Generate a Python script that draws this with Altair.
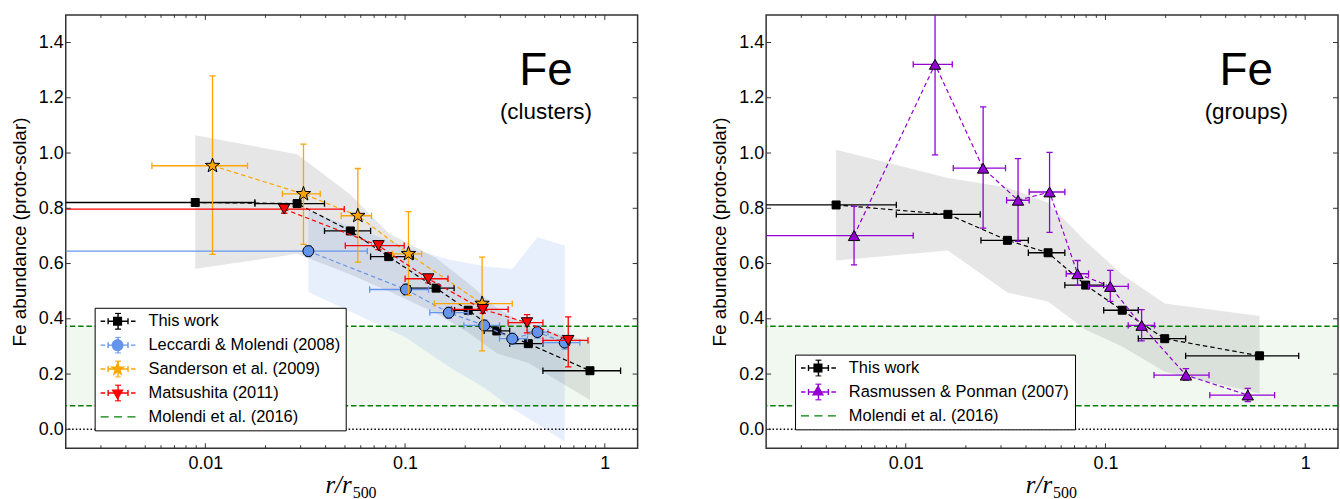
import math
import altair as alt
import pandas as pd

# ---------------------------------------------------------------- clusters
tw_c_x   = [0.0089, 0.0288, 0.0532, 0.0828, 0.143, 0.207, 0.288, 0.414, 0.843]
tw_c_y   = [0.821, 0.817, 0.718, 0.625, 0.511, 0.431, 0.356, 0.310, 0.212]
tw_c_ylo = [0.812, 0.808, 0.708, 0.615, 0.501, 0.421, 0.346, 0.300, 0.202]
tw_c_yhi = [0.830, 0.826, 0.728, 0.635, 0.521, 0.441, 0.366, 0.320, 0.222]
tw_c_xlo = [0.0001, 0.0177, 0.0395, 0.0672, 0.106, 0.177, 0.249, 0.334, 0.49]
tw_c_xhi = [0.0177, 0.0395, 0.0672, 0.110, 0.176, 0.249, 0.334, 0.49, 1.2]
tw_c_band_lo = [0.581, 0.635, 0.56, 0.50, 0.42, 0.35, 0.275, 0.24, 0.106]
tw_c_band_hi = [1.064, 0.996, 0.85, 0.71, 0.62, 0.53, 0.44, 0.37, 0.32]

lm_x   = [0.0328, 0.101, 0.1655, 0.249, 0.344, 0.46, 0.63]
lm_y   = [0.645, 0.506, 0.422, 0.376, 0.328, 0.352, 0.314]
lm_ylo = [0.625, 0.486, 0.402, 0.356, 0.308, 0.330, 0.290]
lm_yhi = [0.665, 0.526, 0.442, 0.396, 0.348, 0.374, 0.338]
lm_xlo = [0.0001, 0.0665, 0.133, 0.197, 0.297, 0.41, 0.49]
lm_xhi = [0.0647, 0.131, 0.207, 0.297, 0.41, 0.52, 0.75]
lm_band_lo = [0.497, 0.332, 0.226, 0.15, 0.075, 0.019, -0.045]
lm_band_hi = [0.79, 0.66, 0.615, 0.59, 0.58, 0.695, 0.665]

sa_x   = [0.01086, 0.031, 0.058, 0.104, 0.243]
sa_y   = [0.954, 0.852, 0.773, 0.635, 0.455]
sa_ylo = [0.633, 0.669, 0.605, 0.485, 0.284]
sa_yhi = [1.279, 1.032, 0.944, 0.788, 0.623]
sa_xlo = [0.0054, 0.0243, 0.0479, 0.0865, 0.14]
sa_xhi = [0.01626, 0.0376, 0.0679, 0.121, 0.344]

ma_x   = [0.0248, 0.0736, 0.1306, 0.245, 0.408, 0.656]
ma_y   = [0.797, 0.665, 0.545, 0.434, 0.386, 0.322]
ma_ylo = [0.782, 0.650, 0.530, 0.420, 0.349, 0.226]
ma_yhi = [0.812, 0.680, 0.560, 0.448, 0.415, 0.407]
ma_xlo = [0.0001, 0.0502, 0.100, 0.171, 0.328, 0.49]
ma_xhi = [0.0496, 0.099, 0.164, 0.328, 0.49, 0.824]

# ---------------------------------------------------------------- groups
tw_g_x   = [0.00448, 0.01626, 0.0323, 0.0516, 0.0796, 0.1213, 0.198, 0.591]
tw_g_y   = [0.812, 0.778, 0.684, 0.639, 0.522, 0.431, 0.328, 0.266]
tw_g_ylo = [0.800, 0.768, 0.673, 0.628, 0.511, 0.420, 0.318, 0.254]
tw_g_yhi = [0.824, 0.788, 0.695, 0.650, 0.533, 0.442, 0.338, 0.278]
tw_g_xlo = [0.0001, 0.00897, 0.0238, 0.0411, 0.0626, 0.098, 0.146, 0.252]
tw_g_xhi = [0.00897, 0.0236, 0.0411, 0.0626, 0.098, 0.146, 0.252, 0.928]
tw_g_band_lo = [0.611, 0.647, 0.495, 0.463, 0.36, 0.30, 0.208, 0.13]
tw_g_band_hi = [1.012, 0.91, 0.875, 0.82, 0.68, 0.56, 0.455, 0.41]

rp_x   = [0.00551, 0.01402, 0.0244, 0.0365, 0.0525, 0.0725, 0.1057, 0.1517, 0.253, 0.516]
rp_y   = [0.701, 1.321, 0.945, 0.829, 0.859, 0.563, 0.517, 0.376, 0.196, 0.124]
rp_ylo = [0.595, 0.993, 0.728, 0.680, 0.713, 0.521, 0.463, 0.320, 0.178, 0.100]
rp_yhi = [0.807, 1.650, 1.167, 0.980, 1.002, 0.611, 0.575, 0.433, 0.220, 0.148]
rp_xlo = [0.0001, 0.0109, 0.0173, 0.0320, 0.0415, 0.0636, 0.0823, 0.130, 0.175, 0.333]
rp_xhi = [0.0109, 0.0171, 0.0316, 0.0415, 0.0626, 0.0823, 0.130, 0.176, 0.330, 0.703]

# Molendi et al. (2016) range
molendi_lo = 0.085
molendi_hi = 0.373

y_tick_values = [0.0, 0.2, 0.4, 0.6, 0.8, 1.0, 1.2, 1.4]
x_major_values = [0.01, 0.1, 1.0]
x_minor_values = [0.003, 0.004, 0.005, 0.006, 0.007, 0.008, 0.009,
                  0.02, 0.03, 0.04, 0.05, 0.06, 0.07, 0.08, 0.09,
                  0.2, 0.3, 0.4, 0.5, 0.6, 0.7, 0.8, 0.9]

# ---------------------------------------------------------------- style
W, H = 574, 435
X_DOM = [0.002, 1.46]
Y_DOM = [-0.0686, 1.5]
FONT = "Liberation Sans"
FRAME = "#333333"
BLACK, BLUE, ORANGE, RED, PURPLE, GREEN = (
    "#000000", "#6495ED", "#FFA500", "#FF0000", "#9400D3", "#008000")

xs = alt.Scale(type="log", domain=X_DOM, nice=False)
ys = alt.Scale(domain=Y_DOM, nice=False, zero=False)

X_AXIS = alt.Axis(values=x_major_values, ticks=False, domain=False, grid=False,
                  labelExpr="datum.value >= 0.5 ? '1' : (datum.value >= 0.05 ? '0.1' : '0.01')",
                  labelFont=FONT, labelFontSize=18, labelColor="black",
                  labelPadding=6, title=None)
Y_AXIS = alt.Axis(values=y_tick_values, format=".1f", ticks=False, domain=False,
                  grid=False, labelFont=FONT, labelFontSize=18, labelColor="black",
                  labelPadding=2.5, title="Fe abundance (proto-solar)",
                  titleFont=FONT, titleFontSize=19, titleFontWeight="normal",
                  titleColor="black", titlePadding=9)


def X(f):
    return alt.X(f, scale=xs, axis=X_AXIS)


def Y(f):
    return alt.Y(f, scale=ys, axis=Y_AXIS)


def star_path(r_out, r_in):
    pts = []
    for i in range(10):
        r = r_out if i % 2 == 0 else r_in
        a = -math.pi / 2 + i * math.pi / 5
        pts.append(f"{r * math.cos(a):.3f},{r * math.sin(a):.3f}")
    return "M" + " L".join(pts) + " Z"


def circle_path(r):
    return f"M{r},0 A{r},{r} 0 1,1 {-r},0 A{r},{r} 0 1,1 {r},0 Z"


STAR = star_path(1.0, 0.4)
TRI_DOWN_L = "M-0.35,-0.2 L0.35,-0.2 L0,0.4 Z"
TRI_UP_L = "M-0.35,0.2 L0.35,0.2 L0,-0.4 Z"
SQUARE_L = "M-0.26,-0.26 L0.26,-0.26 L0.26,0.26 L-0.26,0.26 Z"
ERRBAR_L = ("M-1,0 L-0.74,0 M-0.57,0 L0.57,0 M0.74,0 L1,0 "
            "M-0.57,-0.17 L-0.57,0.17 M0.57,-0.17 L0.57,0.17 "
            "M0,-0.46 L0,0.46 M-0.17,-0.46 L0.17,-0.46 M-0.17,0.46 L0.17,0.46")
DASHES_L = "M-1,0 L-0.54,0 M-0.23,0 L0.23,0 M0.54,0 L1,0"
EMPTY_L = "M0,0 L0,0"


def frame_df(**cols):
    return pd.DataFrame(cols)


def series_layers(x, y, ylo, yhi, xlo, xhi, color, shape, size):
    df = frame_df(x=x, y=y, ylo=ylo, yhi=yhi, xlo=xlo, xhi=xhi)
    base = alt.Chart(df)
    out = [
        base.mark_rule(color=color, strokeWidth=1.3, clip=True).encode(
            x=X("xlo:Q"), x2="xhi:Q", y=Y("y:Q")),
        base.mark_rule(color=color, strokeWidth=1.3, clip=True).encode(
            x=X("x:Q"), y=Y("ylo:Q"), y2="yhi:Q"),
    ]
    for f in ("xlo:Q", "xhi:Q"):
        out.append(base.mark_point(shape="M0,-1 L0,1", size=40, filled=False,
                                   color=color, strokeWidth=1.3, opacity=1,
                                   clip=True).encode(x=X(f), y=Y("y:Q")))
    for f in ("ylo:Q", "yhi:Q"):
        out.append(base.mark_point(shape="M-1,0 L1,0", size=40, filled=False,
                                   color=color, strokeWidth=1.3, opacity=1,
                                   clip=True).encode(x=X("x:Q"), y=Y(f)))
    out.append(base.mark_line(color=color, strokeWidth=1.2, strokeDash=[4.5, 3]).encode(
        x=X("x:Q"), y=Y("y:Q")))
    out.append(base.mark_point(shape=shape, size=size, filled=True, fill=color,
                               stroke="black", strokeWidth=1, opacity=1).encode(
        x=X("x:Q"), y=Y("y:Q")))
    return out


def legend_layers(labels, line_colors, marker_fills, marker_paths, line_paths, lx, ly):
    common = dict(orient="none", legendX=lx, legendY=ly, title=None, padding=5,
                  labelOffset=12, symbolSize=1225, clipHeight=17, rowPadding=7,
                  labelFont=FONT, labelFontSize=16.5, labelColor="black",
                  labelLimit=400)
    leg_lines = alt.Legend(fillColor="white", strokeColor="black",
                           symbolStrokeWidth=1.4, zindex=1, **common)
    leg_marks = alt.Legend(labelOpacity=0, symbolStrokeColor="black",
                           symbolStrokeWidth=1, zindex=2, **common)
    marker_labels = [lab + " " for lab in labels]
    empty = alt.InlineData(values=[])
    lines = alt.Chart(empty).mark_point(filled=False, size=1225, strokeWidth=1.4,
                                        opacity=1).encode(
        stroke=alt.Stroke("s:N", scale=alt.Scale(domain=labels, range=line_colors),
                          legend=leg_lines),
        shape=alt.Shape("s:N", scale=alt.Scale(domain=labels, range=line_paths),
                        legend=leg_lines))
    marks = alt.Chart(empty).mark_point(filled=True, size=1225, stroke="black",
                                        strokeWidth=1, opacity=1).encode(
        fill=alt.Fill("t:N", scale=alt.Scale(domain=marker_labels, range=marker_fills),
                      legend=leg_marks),
        shape=alt.Shape("t:N", scale=alt.Scale(domain=marker_labels, range=marker_paths),
                        legend=leg_marks))
    return [lines, marks]


def tick_layers():
    yt = alt.Chart(frame_df(v=y_tick_values))
    xm = alt.Chart(frame_df(v=x_major_values))
    xn = alt.Chart(frame_df(v=x_minor_values))
    rule = dict(color=FRAME, strokeWidth=1)
    return [
        yt.mark_rule(**rule).encode(y=Y("v:Q"), x=alt.value(0), x2=alt.value(5)),
        yt.mark_rule(**rule).encode(y=Y("v:Q"), x=alt.value(W - 5), x2=alt.value(W)),
        xm.mark_rule(**rule).encode(x=X("v:Q"), y=alt.value(H - 5), y2=alt.value(H)),
        xm.mark_rule(**rule).encode(x=X("v:Q"), y=alt.value(0), y2=alt.value(5)),
        xn.mark_rule(**rule).encode(x=X("v:Q"), y=alt.value(H - 3), y2=alt.value(H)),
        xn.mark_rule(**rule).encode(x=X("v:Q"), y=alt.value(0), y2=alt.value(3)),
    ]


def text_layer(t, x, y, size, font=FONT, align="center", style="normal"):
    return alt.Chart(frame_df(t=[t])).mark_text(
        font=font, fontSize=size, align=align, baseline="alphabetic",
        fontStyle=style, color="black").encode(
        text="t:N", x=alt.value(x), y=alt.value(y))


def panel(bands, series, legend, subtitle):
    layers = []
    for bx, blo, bhi, color, op in bands:
        layers.append(alt.Chart(frame_df(x=bx, lo=blo, hi=bhi)).mark_area(
            color=color, opacity=op).encode(x=X("x:Q"), y=Y("lo:Q"), y2="hi:Q"))
    layers.insert(0, alt.Chart(frame_df(lo=[molendi_lo], hi=[molendi_hi])).mark_rect(
        fill=GREEN, opacity=0.06).encode(
        y=Y("lo:Q"), y2="hi:Q", x=alt.value(0), x2=alt.value(W)))
    layers.append(alt.Chart(frame_df(v=[molendi_lo, molendi_hi])).mark_rule(
        color=GREEN, strokeWidth=1.5, strokeDash=[5.5, 2.8]).encode(y=Y("v:Q")))
    layers.append(alt.Chart(frame_df(v=[0.0])).mark_rule(
        color="black", strokeWidth=1.5, strokeDash=[1.5, 2.2]).encode(y=Y("v:Q")))
    for s in series:
        layers += series_layers(*s)
    layers += tick_layers()
    layers.append(text_layer("Fe", 482, 70, 46))
    layers.append(text_layer(subtitle, 482, 105, 22.5))
    layers.append(text_layer("r/r", W / 2, H + 45, 25, font="Liberation Serif",
                             align="right", style="italic"))
    layers.append(text_layer("500", W / 2 + 1, H + 50, 16, font="Liberation Serif",
                             align="left"))
    layers += legend_layers(*legend)
    return alt.layer(*layers).properties(width=W, height=H).resolve_scale(
        shape="independent", fill="independent", stroke="independent")


left = panel(
    bands=[(tw_c_x, tw_c_band_lo, tw_c_band_hi, "gray", 0.2),
           (lm_x, lm_band_lo, lm_band_hi, BLUE, 0.15)],
    series=[(tw_c_x, tw_c_y, tw_c_ylo, tw_c_yhi, tw_c_xlo, tw_c_xhi, BLACK, "square", 64),
            (lm_x, lm_y, lm_ylo, lm_yhi, lm_xlo, lm_xhi, BLUE, "circle", 121),
            (sa_x, sa_y, sa_ylo, sa_yhi, sa_xlo, sa_xhi, ORANGE, STAR, 230),
            (ma_x, ma_y, ma_ylo, ma_yhi, ma_xlo, ma_xhi, RED, "triangle-down", 130)],
    legend=(["This work", "Leccardi & Molendi (2008)", "Sanderson et al. (2009)",
             "Matsushita (2011)", "Molendi et al. (2016)"],
            [BLACK, BLUE, ORANGE, RED, GREEN],
            [BLACK, BLUE, ORANGE, RED, "transparent"],
            [SQUARE_L, circle_path(0.34), star_path(0.47, 0.19), TRI_DOWN_L, EMPTY_L],
            [ERRBAR_L, ERRBAR_L, ERRBAR_L, ERRBAR_L, DASHES_L],
            29, 294),
    subtitle="(clusters)")

right = panel(
    bands=[(tw_g_x, tw_g_band_lo, tw_g_band_hi, "gray", 0.2)],
    series=[(tw_g_x, tw_g_y, tw_g_ylo, tw_g_yhi, tw_g_xlo, tw_g_xhi, BLACK, "square", 64),
            (rp_x, rp_y, rp_ylo, rp_yhi, rp_xlo, rp_xhi, PURPLE, "triangle-up", 130)],
    legend=(["This work", "Rasmussen & Ponman (2007)", "Molendi et al. (2016)"],
            [BLACK, PURPLE, GREEN],
            [BLACK, PURPLE, "transparent"],
            [SQUARE_L, TRI_UP_L, EMPTY_L],
            [ERRBAR_L, ERRBAR_L, DASHES_L],
            29, 341),
    subtitle="(groups)")

chart = alt.hconcat(left, right, spacing=70).resolve_scale(
    shape="independent", fill="independent", stroke="independent"
).properties(
    padding={"left": 9, "top": 12, "right": 0, "bottom": 0},
    background="white",
).configure_view(stroke=FRAME, strokeWidth=1.5)

chart.save("out.html", embed_options={"renderer": "svg", "actions": False})
